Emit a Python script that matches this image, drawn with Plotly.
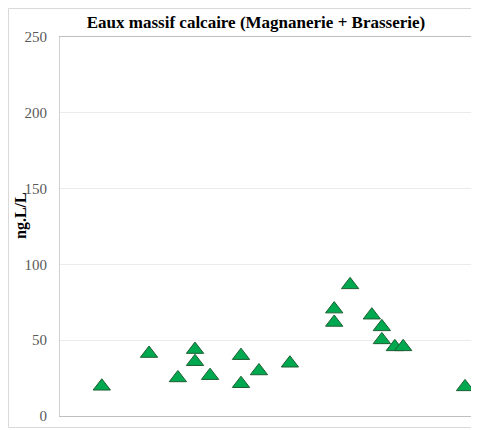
import plotly.graph_objects as go

# sample position along the campaign (arbitrary units, no x labels in the source)
sample_pos = [10.0, 21.3, 28.2, 32.3, 32.3, 35.9, 43.3, 43.3, 47.6, 55.0,
              65.6, 65.6, 69.4, 74.6, 77.0, 77.0, 80.1, 82.1, 96.9]
# concentration, ng.L/L
conc = [19.6, 41.2, 25.1, 43.8, 35.8, 26.6, 39.8, 21.3, 29.7, 34.8,
        70.5, 61.7, 86.5, 66.5, 58.8, 50.2, 45.6, 45.6, 19.2]

y_ticks = [0, 50, 100, 150, 200, 250]

# page body adds an 8px offset and the visible page ends ~472px,
# so the figure is a bit smaller than the window
W, H = 464, 422
PW = 411  # plot width in px

fig = go.Figure()
fig.add_trace(go.Scatter(
    x=sample_pos, y=conc, mode='markers',
    marker=dict(symbol='triangle-up', size=15, color='#00A84F',
                line=dict(color='#1E5E32', width=1)),
    showlegend=False, cliponaxis=False))

fig.update_layout(
    width=W, height=H,
    margin=dict(l=52, r=1, t=29, b=14),
    paper_bgcolor='white', plot_bgcolor='white',
    font=dict(family='Liberation Serif', color='#595959', size=15),
    title=dict(text='<b>Eaux massif calcaire (Magnanerie + Brasserie)</b>',
               x=248/W, xanchor='center', y=1 - 14/H, yanchor='middle',
               font=dict(family='Liberation Serif', size=17, color='black')),
    xaxis=dict(range=[0, 100 * PW / 418], showticklabels=False, showgrid=False,
               zeroline=False, showline=True, linecolor='#BFBFBF',
               mirror=True, ticks=''),
    yaxis=dict(range=[0, 250], tickvals=y_ticks, showgrid=True,
               gridcolor='#EBEBEB', zeroline=False, showline=True,
               linecolor='#D0D0D0', mirror=True, ticks='',
               ticklabelstandoff=9),
)

# y axis title placed by hand, slightly above the plot centre as in the source
fig.add_annotation(text='<b>ng.L/L</b>', textangle=-90, showarrow=False,
                   xref='paper', yref='paper', x=(21 - 60) / PW,
                   y=(416 - 216) / 379, xanchor='center', yanchor='middle',
                   font=dict(family='Liberation Serif', size=16, color='black'))

# outer chart border (partly cropped in the source)
fig.add_shape(type='rect', xref='paper', yref='paper',
              x0=-51.5 / PW, x1=1.2, y0=-11.5 / 379, y1=1 + 28.5 / 379,
              line=dict(color='#D9D9D9', width=1), layer='below')

fig.write_html("out.html")
